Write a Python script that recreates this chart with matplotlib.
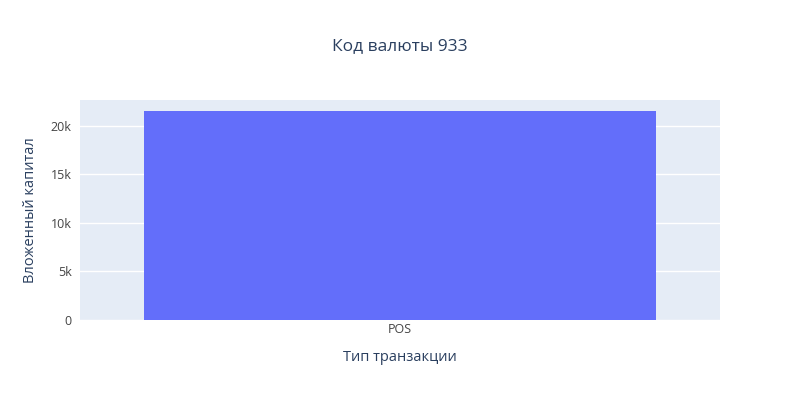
import matplotlib.pyplot as plt
from matplotlib.ticker import FuncFormatter

plt.rcParams['font.family'] = ['Open Sans', 'DejaVu Sans']

# Data
categories = ['POS']
values = [21500]
yticks = [0, 5000, 10000, 15000, 20000]

fig = plt.figure(figsize=(8, 4), dpi=100)
ax = fig.add_axes([0.1, 0.2, 0.8, 0.55])
ax.set_facecolor('#E5ECF6')

ax.bar(range(len(categories)), values, width=0.8, color='#636EFA', zorder=3)

ax.set_xlim(-0.5, len(categories) - 0.5)
ax.set_ylim(0, 22645)
ax.set_xticks(range(len(categories)))
ax.set_xticklabels(categories)
ax.set_yticks(yticks)
ax.yaxis.set_major_formatter(FuncFormatter(lambda v, p: '0' if v == 0 else f'{int(v/1000)}k'))

ax.grid(axis='y', color='white', linewidth=1, zorder=0)
ax.tick_params(length=0, labelsize=9, colors='#444444')
ax.tick_params(axis='y', pad=6)
ax.tick_params(axis='x', pad=2)
for s in ax.spines.values():
    s.set_visible(False)

ax.set_xlabel('Тип транзакции', fontsize=10.5, color='#2a3f5f', labelpad=10)
ax.set_ylabel('Вложенный капитал', fontsize=10.5, color='#2a3f5f', labelpad=9)
fig.text(0.5, 0.885, 'Код валюты 933', ha='center', va='center', fontsize=12.5, color='#2a3f5f')

plt.savefig('out.png')
